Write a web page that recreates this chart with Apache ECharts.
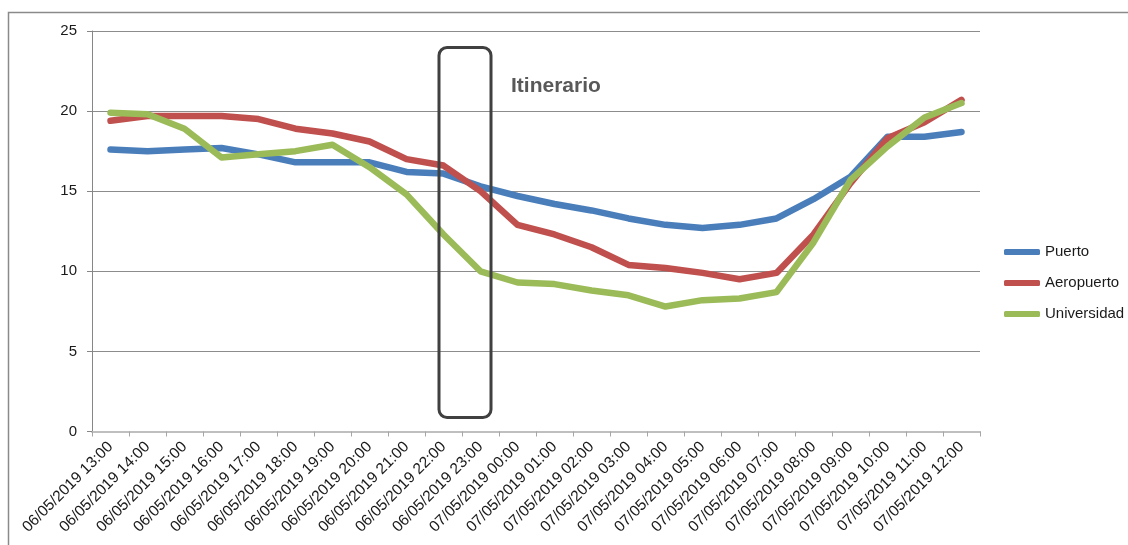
<!DOCTYPE html>
<html>
<head>
<meta charset="utf-8">
<style>
  html, body { margin: 0; padding: 0; background: #ffffff; }
  #chart { width: 1128px; height: 545px; }
</style>
<script src="https://cdn.jsdelivr.net/npm/echarts@6/dist/echarts.min.js"></script>
</head>
<body>
<div id="chart"></div>
<script>
// Hourly readings, 06/05/2019 13:00 to 07/05/2019 12:00
const categories = [
  '06/05/2019 13:00', '06/05/2019 14:00', '06/05/2019 15:00', '06/05/2019 16:00',
  '06/05/2019 17:00', '06/05/2019 18:00', '06/05/2019 19:00', '06/05/2019 20:00',
  '06/05/2019 21:00', '06/05/2019 22:00', '06/05/2019 23:00', '07/05/2019 00:00',
  '07/05/2019 01:00', '07/05/2019 02:00', '07/05/2019 03:00', '07/05/2019 04:00',
  '07/05/2019 05:00', '07/05/2019 06:00', '07/05/2019 07:00', '07/05/2019 08:00',
  '07/05/2019 09:00', '07/05/2019 10:00', '07/05/2019 11:00', '07/05/2019 12:00'
];

const puerto = [17.6, 17.5, 17.6, 17.7, 17.3, 16.8, 16.8, 16.8, 16.2, 16.1, 15.3, 14.7,
                14.2, 13.8, 13.3, 12.9, 12.7, 12.9, 13.3, 14.5, 15.9, 18.4, 18.4, 18.7];
const aeropuerto = [19.4, 19.7, 19.7, 19.7, 19.5, 18.9, 18.6, 18.1, 17.0, 16.6, 15.0, 12.9,
                    12.3, 11.5, 10.4, 10.2, 9.9, 9.5, 9.9, 12.3, 15.5, 18.3, 19.3, 20.7];
const universidad = [19.9, 19.8, 18.9, 17.1, 17.3, 17.5, 17.9, 16.5, 14.8, 12.3, 10.0, 9.3,
                     9.2, 8.8, 8.5, 7.8, 8.2, 8.3, 8.7, 11.8, 15.7, 17.8, 19.6, 20.5];

const yTicks = { min: 0, max: 25, interval: 5 };

const seriesDefs = [
  { name: 'Puerto', data: puerto, color: '#4a7ebb' },
  { name: 'Aeropuerto', data: aeropuerto, color: '#c0504d' },
  { name: 'Universidad', data: universidad, color: '#9bbb59' }
];

const font = '"Liberation Sans", Arial, sans-serif';

const chart = echarts.init(document.getElementById('chart'), null, { renderer: 'canvas' });

chart.setOption({
  animation: false,
  backgroundColor: '#ffffff',
  grid: { left: 92, right: 148, top: 31, bottom: 113.5, containLabel: false },
  legend: {
    orient: 'vertical',
    left: 999,
    top: 239,
    itemWidth: 36,
    itemHeight: 6,
    itemGap: 15,
    icon: 'roundRect',
    textStyle: { fontFamily: font, fontSize: 15, color: '#1a1a1a', lineHeight: 16 },
    data: seriesDefs.map(s => s.name)
  },
  xAxis: {
    type: 'category',
    data: categories,
    boundaryGap: true,
    axisLine: { show: true, lineStyle: { color: '#bfbfbf', width: 2 } },
    axisTick: { show: true, length: 5, alignWithLabel: false, lineStyle: { color: '#a6a6a6' } },
    axisLabel: {
      interval: 0,
      rotate: 45,
      margin: 13,
      fontFamily: font,
      fontSize: 15.5,
      color: '#1a1a1a'
    },
    splitLine: { show: false }
  },
  yAxis: {
    type: 'value',
    min: yTicks.min,
    max: yTicks.max,
    interval: yTicks.interval,
    axisLine: { show: true, lineStyle: { color: '#868686', width: 1 } },
    axisTick: { show: true, length: 5, lineStyle: { color: '#868686' } },
    axisLabel: { margin: 15, fontFamily: font, fontSize: 15, color: '#1a1a1a' },
    splitLine: { show: true, lineStyle: { color: '#8c8c8c', width: 1 } }
  },
  series: seriesDefs.map(s => ({
    name: s.name,
    type: 'line',
    data: s.data,
    showSymbol: false,
    symbol: 'none',
    smooth: false,
    color: s.color,
    lineStyle: { color: s.color, width: 6.5, cap: 'round', join: 'round' },
    emphasis: { disabled: true }
  })),
  graphic: [
    // outer chart frame
    {
      type: 'rect',
      silent: true,
      shape: { x: 8.5, y: 12.5, width: 1200, height: 600 },
      style: { fill: 'none', stroke: '#8a8a8a', lineWidth: 1.5 },
      z: 0
    },
    // "Itinerario" callout box
    {
      type: 'rect',
      silent: true,
      shape: { x: 439, y: 47.5, width: 52, height: 370, r: 8 },
      style: { fill: 'none', stroke: '#404040', lineWidth: 3 },
      z: 100
    },
    {
      type: 'text',
      silent: true,
      left: 511,
      top: 76,
      style: {
        text: 'Itinerario',
        font: 'bold 21px ' + font,
        fill: '#595959'
      },
      z: 100
    }
  ]
});
</script>
</body>
</html>
